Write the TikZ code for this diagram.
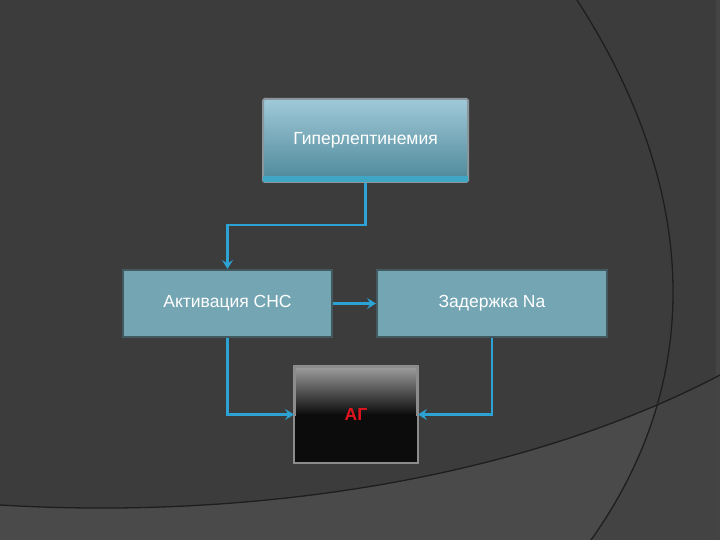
\documentclass[tikz,border=0pt]{standalone}
\usepackage{fontspec}
\setmainfont{Liberation Sans}
\usetikzlibrary{arrows.meta,positioning,calc}
\definecolor{bg}{HTML}{3C3C3C}
\definecolor{bglow}{HTML}{4A4A4A}
\definecolor{bglowr}{HTML}{434343}
\definecolor{bgstrip}{HTML}{444444}
\definecolor{bgline}{HTML}{1E1E1E}
\definecolor{arrowc}{HTML}{2CA3D4}
\definecolor{midfill}{HTML}{74A5B3}
\definecolor{midborder}{HTML}{42595F}
\definecolor{toptop}{HTML}{A0C9D9}
\definecolor{topbot}{HTML}{4C8898}
\definecolor{topband}{HTML}{3FA6C6}
\definecolor{topborder}{HTML}{8A979C}
\definecolor{agtop}{HTML}{9C9C9C}
\definecolor{agbot}{HTML}{0C0C0C}
\definecolor{agborder}{HTML}{8C8C8C}
\definecolor{agtext}{HTML}{E3141E}
\tikzset{
  boxfont/.style={font=\fontsize{17.5}{20}\selectfont},
  midbox/.style={draw=midborder, line width=2pt, fill=midfill, minimum width=209pt, minimum height=67pt, inner sep=0pt, text=white, boxfont},
  topbox/.style={draw=topborder, line width=2pt, rounded corners=1.5pt, top color=toptop, bottom color=topbot, minimum width=205pt, minimum height=83pt, inner sep=0pt},
  agbox/.style={draw=agborder, line width=2pt, minimum width=122pt, minimum height=95pt, inner sep=0pt},
  conn/.style={draw=arrowc, line width=2.6pt, -{Stealth[length=9pt,width=11pt,inset=3.5pt]}},
}
\begin{document}
\begin{tikzpicture}[x=1pt,y=-1pt]
\useasboundingbox (0,0) rectangle (720,540);
% background
\fill[bg] (0,0) rectangle (720,540);
\begin{scope}
  \clip (0,0) -- (577,0) .. controls (700,190) and (705,380) .. (591,540) -- (0,540) -- cycle;
  \fill[bglow] (0,505) .. controls (250,520) and (520,480) .. (720,375) -- (720,540) -- (0,540) -- cycle;
\end{scope}
\begin{scope}
  \clip (577,0) .. controls (700,190) and (705,380) .. (591,540) -- (720,540) -- (720,0) -- cycle;
  \fill[bglowr] (0,505) .. controls (250,520) and (520,480) .. (720,375) -- (720,540) -- (0,540) -- cycle;
\end{scope}
\fill[bgstrip] (716,0) rectangle (720,540);
\draw[bgline, line width=1.3pt] (577,0) .. controls (700,190) and (705,380) .. (591,540);
\draw[bgline, line width=1.3pt] (0,505) .. controls (250,520) and (520,480) .. (720,375);
% nodes
\node[topbox] (top) at (365.5,140.5) {};
\fill[topband] ([xshift=1pt,yshift=1pt]top.south west) rectangle ([xshift=-1pt,yshift=7pt]top.south east);
\node[text=white, boxfont] (toptext) at (top.center) {Гиперлептинемия};
\node[midbox] (act) at (227.5,303.5) {Активация СНС};
\node[midbox, minimum width=230pt] (zad) at (492,303.5) {Задержка Na};
\node[agbox, top color=agtop, bottom color=agbot, middle color=agbot, shading angle=0] (ag) at (356,414.5) {};
\fill[agbot] ([xshift=1pt,yshift=-1pt]ag.west) rectangle ([xshift=-1pt,yshift=1pt]ag.south east);
\draw[agborder, line width=2pt] (ag.south west) rectangle (ag.north east);
\node[text=agtext, font=\fontsize{17.5}{20}\selectfont\bfseries] (agtext) at (ag.center) {АГ};
% connectors
\draw[conn] (top.south) -- ++(0,42) -| (act.north);
\draw[conn] (act.east) -- (zad.west);
\draw[conn] (act.south) |- (ag.west);
\draw[conn] (zad.south) |- (ag.east);
\end{tikzpicture}
\end{document}
